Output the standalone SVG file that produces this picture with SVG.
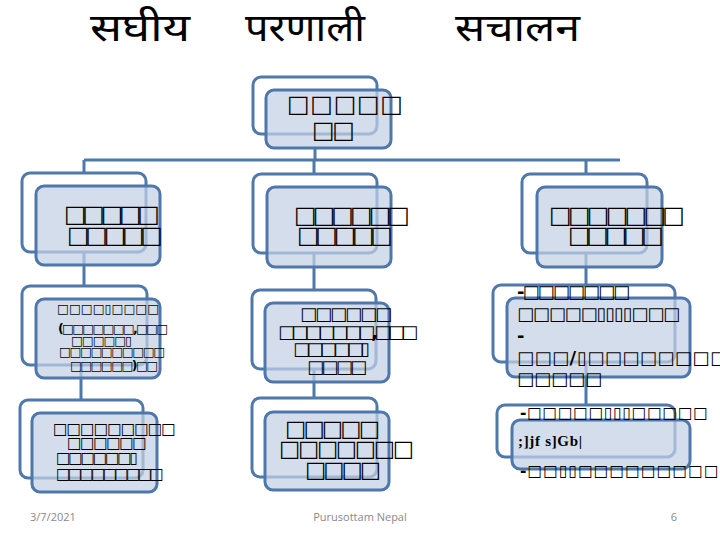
<svg xmlns="http://www.w3.org/2000/svg" width="720" height="540" viewBox="0 0 720 540">
<style>
.bg{fill:#ffffff;stroke:#5079ab;stroke-width:3}
.fr{fill:#c3d0e5;fill-opacity:0.72;stroke:#4e77aa;stroke-width:3}
.cn{fill:none;stroke:#4e79ab;stroke-width:3}
.t{font-family:"DejaVu Sans",sans-serif;font-weight:bold;fill:#000}
.s24{font-size:24px}
.s22{font-size:22.5px}
.s18{font-size:18px}
.s15{font-size:15.5px}
.s12{font-size:12.5px}
.ttl{font-family:"Noto Sans Devanagari","Lohit Devanagari","FreeSans","Noto Sans",sans-serif;font-size:38px;fill:#000}
.ft{font-family:"Open Sans","Liberation Sans",sans-serif;font-size:11px;fill:#8a8a8a}
</style>
<rect width="720" height="540" fill="#ffffff"/>
<g id="title">
<text class="ttl" x="90" y="41" textLength="100" lengthAdjust="spacingAndGlyphs">सघीय</text>
<text class="ttl" x="245" y="41" textLength="120" lengthAdjust="spacingAndGlyphs">परणाली</text>
<text class="ttl" x="455" y="41" textLength="125" lengthAdjust="spacingAndGlyphs">सचालन</text>
</g>
<g id="connectors">
<path class="cn" d="M315,148 V160 M84,160 H620 M84,160 V290 M81,370 V402 M314,160 V400 M586,160 V407"/>
</g>
<g id="root">
<rect class="bg" x="253" y="77" width="124" height="57" rx="8"/>
<rect class="fr" x="266" y="90" width="125" height="58" rx="8"/>
<text class="t s24" x="287" y="111.7" textLength="116" lengthAdjust="spacing">□□□□□</text>
<text class="t s24" x="312" y="137.7" textLength="43" lengthAdjust="spacing">□□</text>
</g>
<g id="c1l1">
<rect class="bg" x="22" y="173" width="124" height="79" rx="8"/>
<rect class="fr" x="36" y="186" width="124" height="79" rx="8"/>
<text class="t s24" x="64" y="221.7" textLength="96" lengthAdjust="spacing">□□□□□</text>
<text class="t s24" x="67" y="242.7" textLength="96" lengthAdjust="spacing">□□□□□</text>
</g>
<g id="c2l1">
<rect class="bg" x="253" y="174" width="124" height="79" rx="8"/>
<rect class="fr" x="267" y="187" width="124" height="80" rx="8"/>
<text class="t s24" x="294" y="222.7" textLength="116" lengthAdjust="spacing">□□□□□□</text>
<text class="t s24" x="297" y="243.4" textLength="96" lengthAdjust="spacing">□□□□□</text>
</g>
<g id="c3l1">
<rect class="bg" x="522" y="174" width="125" height="79" rx="8"/>
<rect class="fr" x="537" y="187" width="125" height="80" rx="8"/>
<text class="t s24" x="549" y="222.7" textLength="136" lengthAdjust="spacing">□□□□□□□</text>
<text class="t s24" x="568" y="242.7" textLength="96" lengthAdjust="spacing">□□□□□</text>
</g>
<g id="c1l2">
<rect class="bg" x="22" y="286" width="125" height="79" rx="8"/>
<rect class="fr" x="36" y="299" width="124" height="79" rx="8"/>
<text class="t s12" x="57" y="312.5" textLength="102" lengthAdjust="spacing">□□□□▯□□□□</text>
<text class="t s12" x="58" y="332.5" textLength="110" lengthAdjust="spacing">(□□□□□□□,□□□</text>
<text class="t s12" x="71" y="345.2" textLength="61" lengthAdjust="spacing">□□□□□▯</text>
<text class="t s12" x="59" y="355.5" textLength="106" lengthAdjust="spacing">□□□□□□□□□□</text>
<text class="t s12" x="70" y="369.5" textLength="88" lengthAdjust="spacing">□□□□□□)□□</text>
</g>
<g id="c2l2">
<rect class="bg" x="252" y="290" width="124" height="79" rx="8"/>
<rect class="fr" x="265" y="303" width="124" height="79" rx="8"/>
<text class="t s18" x="300" y="320" textLength="92" lengthAdjust="spacing">□□□□□□</text>
<text class="t s18" x="278" y="338" textLength="140" lengthAdjust="spacing">□□□□□□□,□□□</text>
<text class="t s18" x="293" y="355" textLength="77" lengthAdjust="spacing">□□□□□▯</text>
<text class="t s18" x="307" y="372.7" textLength="60" lengthAdjust="spacing">□□□□</text>
</g>
<g id="c3l2">
<rect class="bg" x="493" y="285" width="182" height="77" rx="8"/>
<rect class="fr" x="507" y="298" width="183" height="79" rx="8"/>
<text class="t s18" x="517" y="297.7" textLength="113" lengthAdjust="spacing">-□□□□□□□</text>
<text class="t s18" x="517" y="320" textLength="163" lengthAdjust="spacing">□□□□□▯▯▯▯□□□</text>
<text class="t s18" x="517" y="341.7">-</text>
<text class="t s18" x="517" y="364" textLength="245" lengthAdjust="spacing">□□□/▯□□□□□□□□□□</text>
<text class="t s18" x="517" y="385" textLength="85" lengthAdjust="spacing">□□□□□</text>
</g>
<g id="c1l3">
<rect class="bg" x="20" y="400" width="123" height="78" rx="8"/>
<rect class="fr" x="32" y="413" width="125" height="79" rx="8"/>
<text class="t s15" x="53" y="433.6" textLength="123" lengthAdjust="spacing">□□□□□□□□□</text>
<text class="t s15" x="67" y="447.6" textLength="80" lengthAdjust="spacing">□□□□□□</text>
<text class="t s15" x="56" y="463.3" textLength="82" lengthAdjust="spacing">□□□□□□▯</text>
<text class="t s15" x="56" y="479.3" textLength="108" lengthAdjust="spacing">□□□□□□□□□</text>
</g>
<g id="c2l3">
<rect class="bg" x="252" y="398" width="125" height="79" rx="8"/>
<rect class="fr" x="265" y="412" width="124" height="78" rx="8"/>
<text class="t s22" x="285" y="435.6" textLength="95" lengthAdjust="spacing">□□□□□</text>
<text class="t s22" x="279" y="456.3" textLength="135" lengthAdjust="spacing">□□□□□□□</text>
<text class="t s22" x="305" y="477" textLength="76" lengthAdjust="spacing">□□□□</text>
</g>
<g id="c3l3">
<rect class="bg" x="497" y="405" width="178" height="52" rx="8"/>
<rect class="fr" x="512" y="420" width="178" height="49" rx="8"/>
<text class="t s15" x="520" y="417.6" textLength="188" lengthAdjust="spacing">-□□□□□▯▯▯□□□□□</text>
<text x="518" y="446" font-family="Liberation Serif,serif" font-weight="bold" font-size="15" textLength="64" lengthAdjust="spacing">;]jf s]Gb|</text>
<text class="t s15" x="520" y="476" textLength="230" lengthAdjust="spacing">-□□▯▯□□□□□□□□□□□</text>
</g>
<g id="footer">
<text class="ft" x="30" y="521">3/7/2021</text>
<text class="ft" x="360" y="521" text-anchor="middle">Purusottam Nepal</text>
<text class="ft" x="677" y="521" text-anchor="end">6</text>
</g>
</svg>
